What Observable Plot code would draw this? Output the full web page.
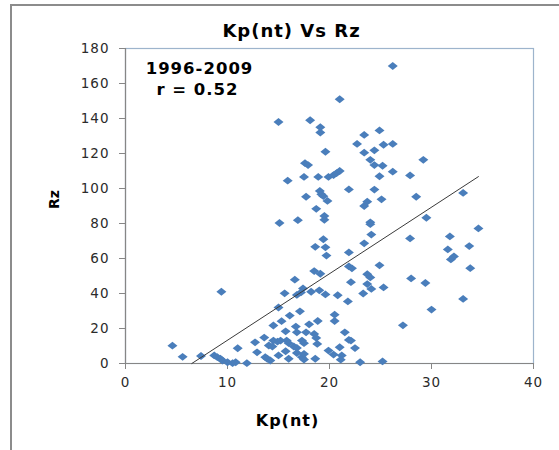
<!DOCTYPE html>
<html>
<head>
<meta charset="utf-8">
<script src="https://cdn.jsdelivr.net/npm/d3@7"></script>
<script src="https://cdn.jsdelivr.net/npm/@observablehq/plot@0.6"></script>
<style>
  html, body { margin: 0; padding: 0; background: #fff; }
  #wrap { position: relative; width: 559px; height: 450px; overflow: hidden; }
  #outer { position: absolute; left: 10px; top: 4px; width: 600px; height: 500px;
           border-top: 2px solid #8c8c8c; border-left: 2px solid #8c8c8c; pointer-events: none; }
</style>
</head>
<body>
<div id="wrap"><div id="outer"></div></div>
<script>
const titleText = "Kp(nt) Vs Rz";
const xLabel = "Kp(nt)";
const yLabel = "Rz";
const noteLines = ["1996-2009", "r = 0.52"];
const xTicks = [0, 10, 20, 30, 40];
const yTicks = [0, 20, 40, 60, 80, 100, 120, 140, 160, 180];
const trendSlope = 3.80;
const trendIntercept = -24.7;

const kp = [26.2,21.0,15.0,18.1,19.1,19.1,19.6,17.6,17.9,15.9,17.5,18.9,19.9,20.4,20.7,21.0,21.9,19.05,19.2,19.4,
  17.7,19.8,18.7,19.5,19.5,16.9,15.1,22.7,23.4,24.9,26.2,25.3,23.4,24.4,24.0,24.4,25.2,24.9,26.2,24.4,
  23.7,23.4,25.1,29.2,27.9,28.5,33.1,29.5,24.0,24.0,24.1,23.4,34.6,31.8,33.7,27.9,31.6,32.2,31.9,33.8,
  24.9,23.7,24.0,23.7,24.1,25.3,23.3,28.0,29.4,33.1,30.0,27.2,22.5,23.0,25.2,19.4,18.6,19.6,19.7,21.9,
  18.5,19.1,21.9,22.2,22.1,21.8,20.8,18.2,19.0,19.6,17.4,17.2,16.8,15.6,16.6,15.0,16.1,17.1,20.5,20.5,
  18.85,18.0,14.5,15.3,16.7,17.7,18.5,18.7,18.8,15.7,16.8,13.6,12.7,14.5,14.9,15.2,14.05,14.4,15.8,16.0,
  16.5,16.8,17.3,17.5,15.7,12.9,13.7,13.9,14.2,15.0,16.0,17.3,17.5,11.0,4.6,5.6,7.4,8.7,9.0,9.3,
  9.5,10.0,10.5,10.8,11.9,9.4,21.5,21.9,19.9,20.4,21.0,21.2,21.1,18.6,17.5,16.8,22.1];
const rz = [170,151,138,139,135,132,121,114.5,113.4,104.5,106.6,106.6,106.6,107.7,108.8,110,99.5,98.6,96.7,95.6,
  95.3,92.9,88.4,84.3,82.1,81.9,80.3,125.5,130.6,133.2,125.5,125,120.5,121.8,116.4,113.4,113,107,109.6,99.4,
  92.5,90,93.8,116.4,107.5,95.3,97.5,83.3,80.7,79.6,73.7,68.7,77.2,72.6,67.1,71.5,65.2,61.2,59.5,54.5,
  56.1,51,49.2,45.4,42.6,43.5,40,48.6,46,36.9,30.8,21.8,8.8,0.7,1.2,71,66.7,66.4,61.7,63.5,
  52.8,51.3,55.5,54.4,46.5,35.5,39,41,41.8,39.5,42.9,40.6,39.2,40.1,47.9,32,27.4,29.8,27.9,24.3,
  24.3,22.4,21.7,24.2,21.1,17.8,16.9,14.6,11.2,18.4,17.8,14.8,12.1,13.1,12.5,13.1,10.3,9.7,13.1,11.6,
  9.7,8.9,13.1,11.6,7,6.4,3.6,2.7,1.7,4.6,2.7,3.6,2.3,8.7,10.2,3.8,4.3,4.6,3.6,2.7,
  1.7,0.7,0.2,0.7,0.2,41,17.8,13.5,7.4,5.1,9.3,4.6,2.2,2.7,5.5,6,13.1];

const points = kp.map((x, i) => ({x, y: rz[i]}));
const xStart = Math.max(d3.min(kp), -trendIntercept / trendSlope);
const xEnd = d3.max(kp);
const trend = [xStart, xEnd].map(x => ({x, y: trendSlope * x + trendIntercept}));

const diamond = {
  draw(context) {
    context.moveTo(5, 0);
    context.lineTo(0, 3.9);
    context.lineTo(-5, 0);
    context.lineTo(0, -3.9);
    context.closePath();
  }
};

const chart = Plot.plot({
  width: 559,
  height: 450,
  marginLeft: 125,
  marginRight: 26,
  marginTop: 48,
  marginBottom: 87,
  style: {fontFamily: "DejaVu Sans", fontSize: "13px", color: "#333", background: "transparent", overflow: "visible", letterSpacing: "1px"},
  x: {domain: [0, 40]},
  y: {domain: [0, 180]},
  marks: [
    Plot.frame({stroke: "#9DB4CC", strokeWidth: 1.2}),
    Plot.ruleX([0], {stroke: "#868686", strokeWidth: 1.2}),
    Plot.ruleY([0], {stroke: "#868686", strokeWidth: 1.2}),
    Plot.axisY({ticks: yTicks, tickSize: 6, tickPadding: 10, stroke: "#868686", fill: "#2b2b2b", fontSize: 13.5, label: null, tickFormat: d => String(d)}),
    Plot.axisX({ticks: xTicks, tickSize: 6, tickPadding: 8, stroke: "#868686", fill: "#2b2b2b", fontSize: 13.5, label: null, tickFormat: d => String(d)}),
    Plot.dot(points, {x: "x", y: "y", symbol: diamond, fill: "#4A7EBB", stroke: null}),
    Plot.line(trend, {x: "x", y: "y", stroke: "#3a3a3a", strokeWidth: 1}),
    Plot.text([titleText], {frameAnchor: "top-left", dx: 166, dy: -16.8, textAnchor: "middle", lineAnchor: "middle", fontSize: 18, fontWeight: "bold", fill: "#000"}),
    Plot.text([noteLines[0]], {frameAnchor: "top-left", dx: 74, dy: 19.9, textAnchor: "middle", lineAnchor: "middle", fontSize: 16.5, fontWeight: "bold", fill: "#000"}),
    Plot.text([noteLines[1]], {frameAnchor: "top-left", dx: 72, dy: 41.6, textAnchor: "middle", lineAnchor: "middle", fontSize: 16.5, fontWeight: "bold", fill: "#000"}),
    Plot.text([xLabel], {frameAnchor: "bottom-left", dx: 162, dy: 57, textAnchor: "middle", lineAnchor: "middle", fontSize: 16, fontWeight: "bold", fill: "#000"}),
    Plot.text([yLabel], {frameAnchor: "left", dx: -71, dy: -6.5, rotate: -90, textAnchor: "middle", lineAnchor: "middle", fontSize: 14, fontWeight: "bold", fill: "#000"})
  ]
});

d3.select(chart).selectAll("text").filter(function() { return this.textContent === yLabel; }).style("letter-spacing", "0px");
chart.style.position = "absolute";
chart.style.left = "0px";
chart.style.top = "0px";
document.getElementById("wrap").prepend(chart);
</script>
</body>
</html>
